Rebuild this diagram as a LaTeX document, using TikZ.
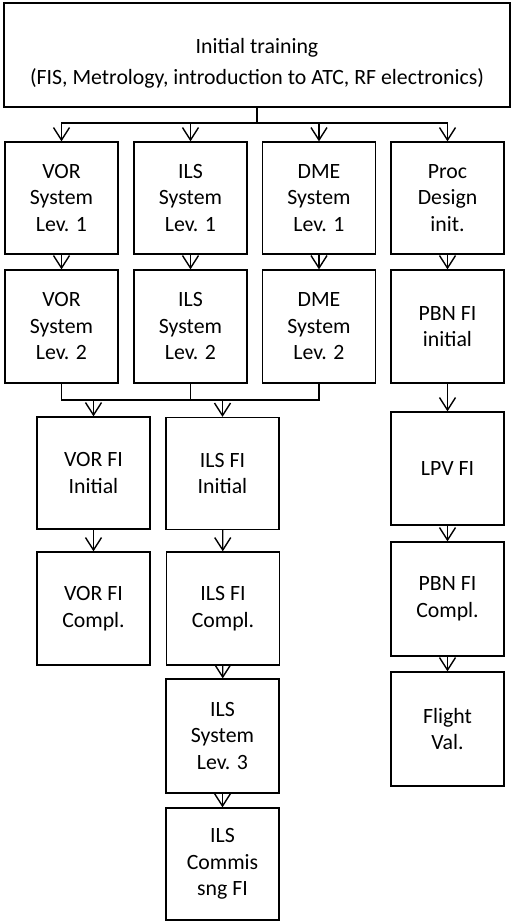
\documentclass[tikz,border=0pt]{standalone}
\usepackage{fontspec}
\setmainfont{Carlito}
\usetikzlibrary{arrows.meta}
\begin{document}
\begin{tikzpicture}[x=1pt,y=-1pt,
  box/.style={draw, line width=1.3pt, inner sep=0pt, align=center,
    minimum width=113pt, minimum height=112pt,
    font=\fontsize{21.8}{26.5}\selectfont},
  conn/.style={line width=1.4pt},
  arr/.style={line width=1.4pt, -{Straight Barb[length=12.5pt,width=16pt,line width=1.4pt]}}]
\useasboundingbox (0,0) rectangle (511,921);
% top
\node[box, minimum width=506pt, minimum height=104pt] (top) at (257,55)
  {\rule{0pt}{32pt}Initial training\\[4.5pt](FIS, Metrology, introduction to ATC, RF electronics)};
% row 1
\node[box] (v1) at (61.5,198) {VOR\\System\\Lev. 1};
\node[box] (i1) at (190.5,198) {ILS\\System\\Lev. 1};
\node[box] (d1) at (319,198) {DME\\System\\Lev. 1};
\node[box] (p1) at (447.5,198) {Proc\\Design\\init.};
% row 2
\node[box, minimum height=113pt] (v2) at (61.5,326.5) {VOR\\System\\Lev. 2};
\node[box, minimum height=113pt] (i2) at (190.5,326.5) {ILS\\System\\Lev. 2};
\node[box, minimum height=113pt] (d2) at (319,326.5) {DME\\System\\Lev. 2};
\node[box, minimum height=113pt] (p2) at (447.5,326.5) {PBN FI\\initial};
% left columns
\node[box] (vfi) at (93.5,473) {VOR FI\\Initial};
\node[box] (ifi) at (222.5,473.5) {ILS FI\\Initial};
\node[box, minimum height=113pt] (vfc) at (93.5,608.5) {VOR FI\\Compl.};
\node[box, minimum height=113pt] (ifc) at (223,608.5) {ILS FI\\Compl.};
\node[box, minimum height=114pt] (is3) at (222.5,736) {ILS\\System\\Lev. 3};
\node[box] (ic) at (222.5,864) {ILS\\Commis\\sng FI};
% right column
\node[box, minimum height=113pt] (lpv) at (447.5,468.5) {LPV FI};
\node[box, minimum height=114pt] (pc) at (447.5,599) {PBN FI\\Compl.};
\node[box, minimum height=114pt] (fv) at (447.5,729) {Flight\\Val.};
% top fan-out
\coordinate (j) at (257,123);
\draw[conn] (top.south) -- (j);
\draw[arr] (j) -| (v1.north);
\draw[arr] (j) -| (i1.north);
\draw[arr] (j) -| (d1.north);
\draw[arr] (j) -| (p1.north);
% row1 -> row2
\draw[arr] (v1) -- (v2);
\draw[arr] (i1) -- (i2);
\draw[arr] (d1) -- (d2);
\draw[arr] (p1) -- (p2);
% merge
\coordinate (m) at (0,400);
\draw[conn] (v2.south) -- (v2.south |- m) -- (d2.south |- m) -- (d2.south);
\draw[conn] (i2.south) -- (i2.south |- m);
\draw[arr] (vfi.north |- m) -- (vfi.north);
\draw[arr] (ifi.north |- m) -- (ifi.north);
% chains
\draw[arr] (vfi) -- (vfc);
\draw[arr] (ifi) -- (ifc);
\draw[arr] (ifc) -- (is3);
\draw[arr] (is3) -- (ic);
\draw[arr] (p2) -- (lpv);
\draw[arr] (lpv) -- (pc);
\draw[arr] (pc) -- (fv);
\end{tikzpicture}
\end{document}
